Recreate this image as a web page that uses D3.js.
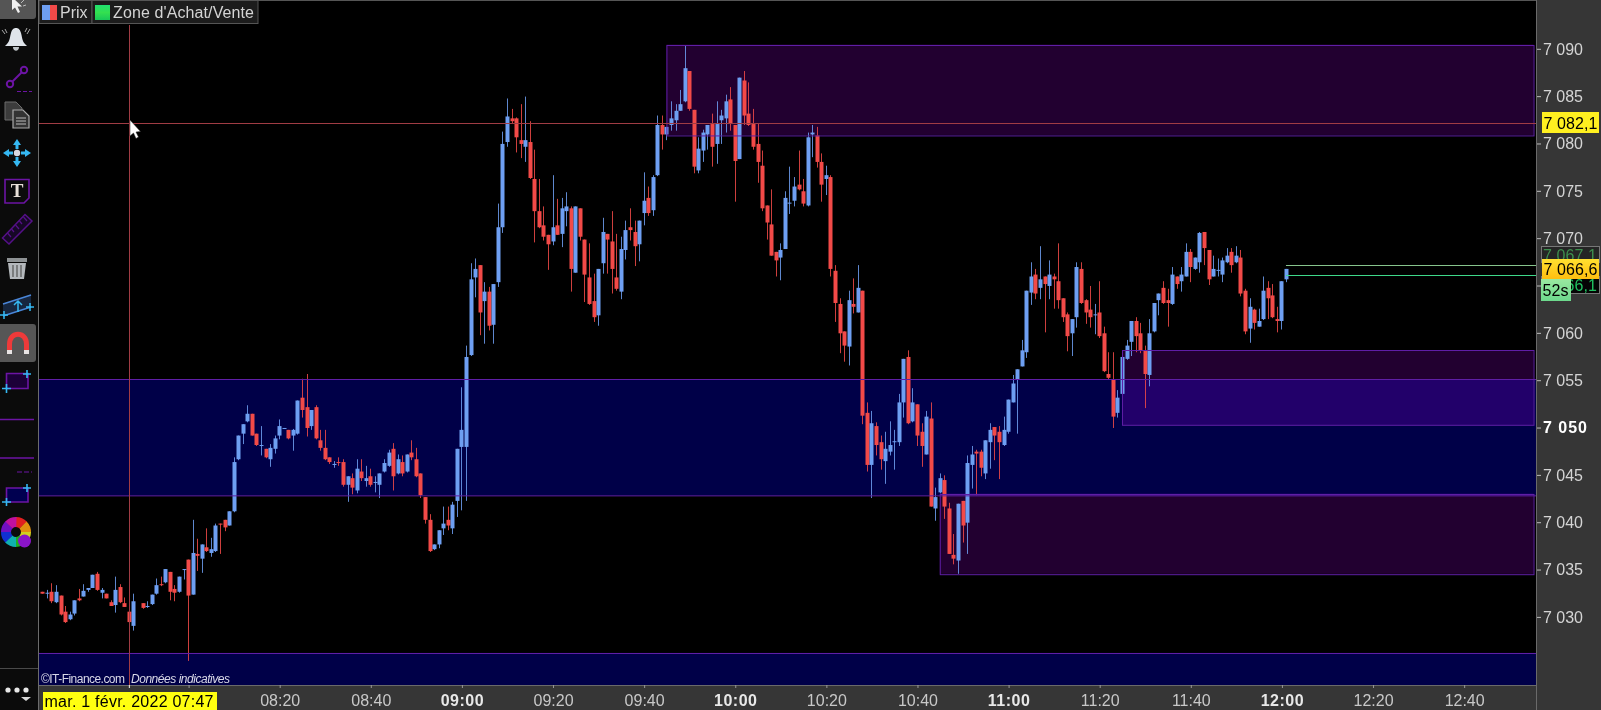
<!DOCTYPE html>
<html><head><meta charset="utf-8">
<script src="https://cdnjs.cloudflare.com/ajax/libs/d3/7.8.5/d3.min.js"></script>
<style>html,body{margin:0;padding:0;background:#000;overflow:hidden}svg{display:block;font-family:"Liberation Sans",Arial,sans-serif}</style>
</head><body><svg id="c" width="1601" height="710"></svg>
<script>
// One candle per minute, starting at the time below. null = no trade in that minute.
const firstMinute = 7 * 60 + 28;
const opens = [
7032.6,7032.4,7032.6,7031.5,7032.2,7030.5,7029.7,7030.3,7031.9,7032.1,
7032.8,7033.0,7034.5,7032.5,7032.4,7031.5,7031.2,7033.1,7031.4,7030.5,
7029.0,null,7031.4,7031.0,7031.3,7032.4,7033.4,7033.6,7034.7,7032.9,
7032.6,7034.9,7036.0,7032.3,7036.6,7036.1,7037.3,7036.7,7036.9,7039.8,
7040.2,7039.6,7041.1,7046.6,7049.3,7050.6,7051.4,7049.3,7048.0,7047.7,
7046.6,7047.7,7049.1,7049.8,7049.7,7049.1,7049.3,7053.1,7052.1,7050.1,
7052.1,7048.6,7047.8,7046.8,7046.0,7046.3,7046.3,7043.9,7044.6,7043.3,
7045.3,7044.3,7044.8,7044.1,7043.9,7045.3,7045.9,7047.7,7045.1,7046.3,
7045.3,7047.3,7046.6,7045.1,7042.6,7040.2,7037.1,7037.6,7039.3,7040.2,
7039.3,7042.2,7047.9,7047.9,7057.6,7065.8,7067.1,7063.3,7064.3,7060.8,
7065.3,7071.1,7080.1,7082.6,7082.6,7080.3,7079.6,7080.1,7076.2,7072.8,
7071.3,7070.3,7069.6,7071.3,7070.4,7072.8,7073.1,7066.3,7073.1,7069.8,
7065.8,7063.3,7061.8,7067.3,7070.4,7069.6,7065.8,7064.3,7068.7,7071.1,
7070.6,7069.3,7072.6,7074.2,7072.9,7076.6,7081.9,7080.9,7081.9,7082.4,
7083.4,7084.4,7087.6,7083.5,7077.1,7079.2,7080.9,7082.0,7079.9,7082.4,
7082.6,7084.6,7081.9,7078.3,7086.6,7083.1,7082.0,7079.9,7077.6,7073.4,
7071.4,7068.5,7067.9,7068.8,7073.6,7073.9,7075.6,7074.9,7073.4,7080.9,
7080.8,7078.0,7076.2,7076.4,7066.5,7063.0,7060.1,7058.5,7063.0,7062.1,
7064.4,7051.5,7046.0,7050.1,7048.4,7046.4,7047.4,7048.4,7048.4,7052.6,
7057.4,7050.6,7052.4,7049.5,7047.1,7050.9,7041.4,7043.1,7044.4,7041.4,
7036.5,7035.9,7042.2,7039.9,7046.0,7047.4,7047.4,7045.1,7048.4,7050.0,
7049.5,7048.1,7049.5,7052.6,7055.0,7056.4,7057.9,7064.2,7066.1,7064.7,
7065.9,7064.9,7065.9,7065.4,7063.6,7061.9,7059.9,7061.6,7066.7,7063.4,
7062.4,7061.8,7062.1,7059.9,7055.6,7055.0,7051.5,7053.5,7057.2,7059.0,
7061.2,7059.9,7058.1,7055.5,7060.1,7063.4,7064.7,7063.4,7063.0,7065.9,
7065.4,7065.9,7068.5,7066.7,7067.4,7070.6,7068.7,7065.9,7066.5,7066.1,
7067.4,7068.5,7067.4,7067.9,7064.4,7060.4,7062.4,7060.6,7061.4,7064.7,
7063.9,7061.4,7061.2,7065.6];
const highs = [
7032.6,7032.8,7033.5,7033.3,7032.2,7031.1,7030.5,7031.7,7032.9,7033.4,
7033.0,7034.4,7034.7,7033.0,7032.4,7031.7,7034.2,7033.4,7032.0,7030.5,
7032.4,null,7031.4,7031.6,7032.3,7034.0,7034.2,7035.0,7034.7,7033.3,
7034.2,7035.0,7036.0,7040.2,7038.2,7037.6,7039.3,7038.3,7039.8,7039.8,
7040.2,7041.1,7046.8,7049.1,7050.3,7052.3,7051.4,7049.3,7050.1,7047.7,
7048.2,7049.1,7050.8,7049.9,7049.7,7049.8,7052.8,7055.1,7055.6,7051.8,
7052.3,7049.7,7049.7,7046.8,7046.4,7046.8,7046.6,7044.8,7045.1,7046.6,
7046.6,7045.9,7045.6,7044.8,7045.1,7046.6,7047.6,7048.3,7047.1,7047.0,
7047.1,7048.6,7047.8,7045.1,7042.6,7040.8,7037.6,7039.1,7041.6,7041.6,
7042.1,7047.7,7054.2,7058.6,7067.3,7067.8,7067.1,7065.3,7064.8,7065.1,
7073.6,7081.2,7084.7,7083.6,7082.7,7084.1,7084.9,7082.3,7079.3,7076.2,
7073.3,7070.3,7076.6,7074.1,7074.2,7074.8,7073.3,7073.3,7073.1,7069.8,
7069.4,7066.2,7066.7,7072.1,7070.4,7072.8,7070.4,7070.1,7071.8,7073.1,
7071.8,7071.8,7076.9,7075.4,7076.6,7082.9,7082.9,7081.7,7084.4,7084.1,
7085.6,7090.3,7087.6,7083.5,7080.6,7081.4,7081.9,7083.1,7084.4,7083.5,
7085.1,7085.9,7081.9,7086.9,7087.6,7086.4,7083.6,7082.0,7079.2,7073.4,
7075.1,7068.5,7069.4,7074.9,7077.5,7076.4,7079.2,7076.2,7081.1,7081.9,
7081.7,7078.9,7077.6,7076.6,7067.1,7063.6,7060.1,7064.4,7065.7,7067.1,
7064.4,7052.6,7051.7,7050.5,7049.1,7049.5,7050.6,7049.7,7053.5,7057.2,
7058.1,7054.1,7052.4,7050.4,7051.7,7052.6,7043.6,7045.1,7044.9,7042.0,
7038.7,7041.9,7042.2,7047.0,7048.0,7047.6,7047.6,7048.6,7050.4,7050.0,
7050.1,7051.1,7052.9,7055.5,7056.1,7059.2,7064.4,7067.4,7066.7,7069.1,
7065.9,7067.6,7066.2,7069.4,7063.6,7062.1,7061.4,7067.4,7067.4,7063.5,
7064.9,7063.0,7065.4,7060.6,7057.9,7057.9,7053.9,7057.9,7059.2,7061.2,
7061.6,7061.0,7058.6,7061.4,7063.1,7064.1,7065.4,7064.6,7066.9,7065.9,
7066.9,7069.4,7068.8,7067.9,7070.6,7070.6,7068.7,7068.1,7067.8,7067.9,
7068.9,7068.9,7069.1,7068.7,7064.6,7063.6,7062.5,7062.5,7065.9,7065.4,
7065.1,7062.7,7065.4,7066.7];
const lows = [
7032.4,7031.9,7031.4,7031.4,7030.1,7029.3,7029.6,7030.1,7031.6,7032.1,
7032.6,7033.0,7032.7,7031.9,7031.9,7031.1,7030.4,7031.4,7031.0,7029.3,
7028.5,null,7030.8,7030.9,7031.2,7032.3,7033.2,7033.5,7031.7,7031.6,
7032.5,7033.9,7025.3,7032.3,7034.8,7034.6,7036.8,7036.3,7036.8,7036.6,
7039.0,7039.6,7041.0,7046.5,7048.2,7050.5,7049.1,7048.0,7047.0,7046.7,
7045.8,7047.2,7048.7,7049.8,7048.7,7047.5,7049.2,7051.0,7049.0,7049.7,
7048.7,7047.5,7046.5,7046.1,7045.7,7045.9,7043.7,7042.1,7042.9,7043.0,
7044.3,7043.7,7043.7,7043.1,7042.5,7045.2,7045.8,7043.3,7045.0,7044.8,
7045.2,7046.5,7044.7,7042.5,7039.8,7036.8,7037.0,7037.2,7038.6,7039.1,
7038.7,7040.5,7041.2,7042.2,7057.5,7063.7,7059.7,7058.8,7060.2,7058.8,
7064.8,7070.5,7079.6,7082.0,7079.0,7078.4,7078.0,7076.2,7069.5,7071.0,
7069.7,7066.6,7069.2,7070.3,7069.0,7071.2,7064.3,7066.3,7069.7,7063.2,
7062.9,7061.1,7060.7,7066.2,7066.2,7064.1,7064.4,7063.5,7067.7,7069.7,
7067.0,7067.5,7071.3,7072.3,7072.3,7076.5,7079.3,7080.3,7081.3,7081.3,
7083.4,7084.3,7083.4,7076.8,7076.8,7078.0,7079.3,7077.5,7077.8,7079.9,
7081.1,7081.3,7073.8,7078.3,7081.9,7081.8,7079.3,7075.8,7072.8,7069.8,
7068.1,7065.9,7065.5,7068.8,7072.5,7073.3,7075.0,7073.3,7073.3,7078.5,
7077.4,7073.8,7074.5,7065.9,7061.1,7057.8,7056.9,7056.5,7062.0,7062.1,
7050.3,7045.3,7042.5,7047.0,7045.5,7044.0,7047.0,7045.5,7048.0,7051.0,
7050.3,7050.5,7048.0,7045.8,7047.1,7041.6,7040.1,7043.0,7040.3,7036.6,
7035.5,7034.5,7037.8,7036.6,7043.5,7042.8,7044.8,7044.5,7045.6,7046.5,
7044.5,7048.0,7049.3,7052.6,7049.3,7056.4,7057.3,7062.9,7063.5,7063.5,
7060.0,7063.5,7062.5,7062.5,7061.1,7058.0,7057.5,7060.5,7063.0,7060.9,
7060.5,7059.8,7059.4,7055.8,7055.0,7049.9,7051.0,7053.4,7057.1,7057.5,
7057.9,7057.8,7052.0,7054.3,7060.0,7061.8,7063.0,7060.6,7062.9,7064.6,
7064.3,7065.9,7065.3,7066.6,7066.3,7067.1,7065.0,7065.9,7065.9,7065.3,
7067.3,7066.3,7067.3,7063.8,7059.8,7058.9,7060.3,7060.6,7061.3,7061.4,
7061.5,7060.0,7060.3,7065.3];
const closes = [
7032.4,7032.5,7031.6,7032.6,7030.2,7029.4,7030.2,7031.7,7031.7,7032.7,
7033.0,7034.4,7032.8,7032.8,7031.9,7031.1,7032.8,7031.5,7031.0,7029.4,
7031.6,null,7030.9,7031.1,7032.3,7033.3,7033.3,7035.0,7032.6,7032.5,
7034.2,7035.0,7032.2,7036.7,7036.4,7037.6,7036.9,7037.1,7039.6,7039.7,
7039.4,7041.1,7046.3,7049.1,7050.3,7051.4,7049.1,7048.1,7048.1,7046.8,
7047.8,7048.8,7050.1,7049.9,7048.8,7049.7,7052.8,7051.8,7049.9,7051.8,
7048.8,7047.8,7046.6,7046.3,7046.1,7046.2,7043.9,7044.8,7043.6,7045.6,
7044.6,7044.6,7043.9,7044.2,7045.1,7046.2,7047.3,7044.8,7046.6,7045.1,
7047.1,7046.8,7044.8,7042.8,7040.2,7036.9,7037.6,7039.1,7039.8,7039.6,
7041.8,7047.7,7049.7,7057.4,7065.6,7066.7,7062.1,7064.3,7060.7,7065.1,
7071.1,7079.9,7082.8,7082.3,7080.6,7079.9,7080.3,7076.3,7072.8,7071.1,
7070.1,7069.3,7071.1,7070.3,7073.1,7073.3,7066.7,7073.3,7070.1,7066.1,
7063.0,7061.6,7066.7,7070.6,7069.8,7066.7,7064.6,7068.8,7070.8,7070.8,
7069.1,7071.8,7073.9,7072.6,7076.4,7081.9,7080.9,7081.7,7082.6,7083.4,
7084.1,7087.9,7083.6,7077.5,7079.4,7081.1,7081.9,7079.6,7082.0,7082.9,
7084.4,7082.0,7078.1,7086.9,7082.9,7081.9,7079.6,7078.0,7073.1,7071.6,
7068.1,7067.6,7068.7,7074.2,7073.7,7075.4,7075.1,7073.6,7080.6,7081.1,
7078.0,7075.6,7076.6,7066.7,7063.1,7059.9,7058.6,7063.4,7062.7,7064.7,
7051.2,7046.0,7050.4,7048.1,7046.6,7047.7,7048.1,7048.5,7052.6,7057.2,
7050.4,7052.6,7049.1,7048.0,7051.1,7041.6,7042.6,7044.6,7041.6,7036.6,
7036.1,7041.9,7039.6,7046.2,7047.1,7047.2,7045.7,7048.6,7049.7,7049.1,
7048.4,7049.7,7052.9,7054.6,7056.1,7058.1,7064.4,7065.9,7064.1,7065.6,
7065.1,7066.1,7065.6,7063.4,7061.6,7059.6,7061.4,7066.9,7063.1,7062.1,
7061.6,7061.9,7059.6,7055.9,7055.2,7051.1,7053.1,7057.4,7058.6,7061.2,
7059.6,7058.1,7055.6,7059.9,7063.1,7064.1,7063.1,7063.1,7066.1,7065.1,
7066.1,7068.5,7066.9,7067.9,7070.5,7068.9,7065.6,7066.7,7066.6,7067.6,
7068.1,7067.1,7068.1,7064.1,7060.1,7062.7,7061.0,7061.2,7064.4,7063.6,
7061.6,7061.2,7065.4,7066.7];

// Supply / demand zones: start minute (null = whole width), top price, bottom price
const zoneStarts = [null, null, 9*60+45, 10*60+45, 11*60+25];
const zoneTops = [7055.05, 7026.15, 7090.4, 7042.97, 7058.1];
const zoneBottoms = [7042.76, 7000, 7080.85, 7034.5, 7050.2];
const zoneKinds = ["buy", "buy", "sell", "sell", "sell"];

const crosshairMinute = 7 * 60 + 47, crosshairPrice = 7082.1;
const bidPrice = 7067.1, lastPrice = 7066.6, askPrice = 7066.1, quoteStart = 12 * 60 + 1;
const countdown = "52s", cursorDate = "mar. 1 févr. 2022 07:47";
const priceTicks = d3.range(7030, 7091, 5);
const hiddenPriceLabels = [7065];
const boldPrice = [7050];
const timeTicks = ["08:00","08:20","08:40","09:00","09:20","09:40","10:00","10:20","10:40","11:00","11:20","11:40","12:00","12:20","12:40"];
const hiddenTimeLabels = ["08:00"];
const legend = ["Prix", "Zone d'Achat/Vente"];
const credit = "©IT-Finance.com", disclaimer = "Données indicatives";

const BLUE = "#6e9ff2", RED = "#f24a48", PANEL = "#363636", TXT = "#d4d4d4", ZLINE = "#5f1ea6";
const plot = {l: 39, r: 1536, t: 1, b: 685};
const toMin = s => { const [h, m] = s.split(":").map(Number); return h * 60 + m; };
const x = d3.scaleLinear().domain([firstMinute, firstMinute + 60]).range([42.3, 42.3 + 60 * 4.5556]);
const y = d3.scaleLinear().domain([7030, 7090]).range([616.4, 48.3]);
const frNum = v => { const s = Math.floor(v).toString(); return s[0] + " " + s.slice(1); };
const fmt1 = v => frNum(v) + "," + Math.round((v % 1) * 10);
const hhmm = m => d3.format("02")(Math.floor(m / 60)) + ":" + d3.format("02")(m % 60);

const svg = d3.select("#c");
const defs = svg.append("defs");
defs.append("clipPath").attr("id", "pc").append("rect").attr("x", plot.l).attr("y", plot.t).attr("width", plot.r - plot.l).attr("height", plot.b - plot.t);
const lg = (id, c) => { const g = defs.append("linearGradient").attr("id", id).attr("x1", 0).attr("x2", 0).attr("y1", 0).attr("y2", 1); c.forEach((k, i) => g.append("stop").attr("offset", i / (c.length - 1)).attr("stop-color", k)); };
lg("gY", ["#ffe030", "#ffbe10"]); lg("gG", ["#20e070", "#34e050", "#18c858"]); lg("g52", ["#9ae8a0", "#6cd88c"]);

svg.append("rect").attr("width", 1601).attr("height", 710).attr("fill", "#000");

// zones
const zones = zoneTops.map((t, i) => ({t, b: zoneBottoms[i], s: zoneStarts[i], k: zoneKinds[i]}));
const gz = svg.append("g").attr("clip-path", "url(#pc)").style("isolation", "isolate");
const zr = d => ({x: d.s === null ? plot.l - 3 : x(d.s), y: y(d.t), w: (d.s === null ? plot.r + 3 : 1533.5) - (d.s === null ? plot.l - 3 : x(d.s)), h: y(d.b) - y(d.t)});
gz.selectAll("rect").data(zones).join("rect").attr("x", d => zr(d).x).attr("y", d => zr(d).y).attr("width", d => zr(d).w).attr("height", d => zr(d).h)
  .attr("fill", d => d.k === "buy" ? "#000048" : "#220030").style("mix-blend-mode", "screen");

// candles
const bars = opens.map((o, i) => o === null ? null : ({m: firstMinute + i, o, h: highs[i], l: lows[i], c: closes[i]})).filter(Boolean);
const gc = svg.append("g").attr("clip-path", "url(#pc)");
const col = d => d.c >= d.o ? BLUE : RED;
gc.selectAll("line").data(bars).join("line").attr("x1", d => Math.round(x(d.m)) + 0.5).attr("x2", d => Math.round(x(d.m)) + 0.5)
  .attr("y1", d => y(d.h)).attr("y2", d => y(d.l)).attr("stroke", col).attr("stroke-width", 1).attr("stroke-opacity", 0.85);
gc.selectAll("rect").data(bars).join("rect").attr("x", d => Math.round(x(d.m)) - 1.5).attr("width", 4)
  .attr("y", d => y(Math.max(d.o, d.c))).attr("height", d => Math.max(1, Math.abs(y(d.o) - y(d.c)))).attr("fill", col);

// zone outlines over the candles
const gs = svg.append("g").attr("clip-path", "url(#pc)");
gs.selectAll("rect").data(zones).join("rect").attr("x", d => zr(d).x + .5).attr("y", d => Math.round(zr(d).y) + .5).attr("width", d => zr(d).w).attr("height", d => zr(d).h)
  .attr("fill", "none").attr("stroke", ZLINE).attr("stroke-width", 1);

// quote lines
const gq = svg.append("g");
[[bidPrice, "#86c48c"], [askPrice, "#3ed88a"]].forEach(([p, c]) => gq.append("line").attr("x1", x(quoteStart)).attr("x2", plot.r).attr("y1", Math.round(y(p)) + .5).attr("y2", Math.round(y(p)) + .5).attr("stroke", c));

// crosshair
const gh = svg.append("g");
gh.append("line").attr("x1", Math.round(x(crosshairMinute)) + .5).attr("x2", Math.round(x(crosshairMinute)) + .5).attr("y1", 25).attr("y2", plot.b).attr("stroke", "#a03c44");
gh.append("line").attr("x1", plot.l).attr("x2", plot.r).attr("y1", Math.round(y(crosshairPrice)) + .5).attr("y2", Math.round(y(crosshairPrice)) + .5).attr("stroke", "#a03c44");
svg.append("path").attr("d", "M130 120 L130 136 L133.5 133 L136 138.5 L138.5 137 L136 132 L140.5 131.5 Z").attr("fill", "#fff").attr("stroke", "#222").attr("stroke-width", .5);

// panels
svg.append("rect").attr("x", plot.r).attr("y", 0).attr("width", 1601 - plot.r).attr("height", 710).attr("fill", PANEL);
svg.append("rect").attr("x", 38).attr("y", plot.b).attr("width", plot.r - 38).attr("height", 710 - plot.b).attr("fill", PANEL);
svg.append("line").attr("x1", plot.r + .5).attr("x2", plot.r + .5).attr("y1", 0).attr("y2", 710).attr("stroke", "#6a6a6a");
svg.append("line").attr("x1", 38).attr("x2", plot.r).attr("y1", .5).attr("y2", .5).attr("stroke", "#555");
svg.append("line").attr("x1", 38).attr("x2", plot.r).attr("y1", plot.b + .5).attr("y2", plot.b + .5).attr("stroke", "#6a6a6a");

// y axis
const ya = d3.axisRight(y).tickValues(priceTicks).tickSize(4).tickPadding(2).tickFormat(v => hiddenPriceLabels.includes(v) ? "" : frNum(v));
const gya = svg.append("g").attr("transform", `translate(${plot.r + 1},0.5)`).call(ya);
gya.select(".domain").remove();
gya.selectAll("line").attr("stroke", "#bbb");
gya.selectAll("text").attr("fill", d => boldPrice.includes(d) ? "#fff" : TXT).attr("font-size", 16).attr("font-weight", d => boldPrice.includes(d) ? "bold" : "normal").attr("font-family", "Liberation Sans").attr("dy", "0.33em").attr("textLength", d => hiddenPriceLabels.includes(d) ? null : (boldPrice.includes(d) ? 44 : 40));

// x axis
const xa = d3.axisBottom(x).tickValues(timeTicks.map(toMin)).tickSize(3).tickPadding(5).tickFormat(m => hiddenTimeLabels.includes(hhmm(m)) ? "" : hhmm(m));
const gxa = svg.append("g").attr("transform", `translate(0.5,${plot.b})`).call(xa);
gxa.select(".domain").remove();
gxa.selectAll("line").attr("stroke", "#999");
const isHour = m => m % 60 === 0;
gxa.selectAll("text").attr("fill", d => isHour(d) ? "#e8e8e8" : "#c8c8c8").attr("font-size", 16).attr("font-family", "Liberation Sans").attr("font-weight", d => isHour(d) ? "bold" : "normal").attr("y", 6).attr("dy", "0.95em").attr("letter-spacing", d => isHour(d) ? .5 : 0);
gxa.append("line").attr("x1", x(crosshairMinute)).attr("x2", x(crosshairMinute)).attr("y1", 0).attr("y2", 3).attr("stroke", "#eee");

// copyright
svg.append("text").attr("x", 41).attr("y", 683).attr("font-size", 12).attr("fill", "#d8d8e8").text(credit).attr("textLength", 84);
svg.append("text").attr("x", 131).attr("y", 683).attr("font-size", 12).attr("font-style", "italic").attr("fill", "#d8d8e8").text(disclaimer).attr("textLength", 99);

// price tags
const tag = (xx, yy, w, h, fill, txt, tc, stroke, len) => {
  svg.append("rect").attr("x", xx).attr("y", yy).attr("width", w).attr("height", h).attr("fill", fill).attr("stroke", stroke || "none");
  if (txt) svg.append("text").attr("x", xx + 1.5).attr("y", yy + h / 2 + 6).attr("font-size", 16).attr("fill", tc).attr("textLength", len || 54).text(txt);
};
tag(1542, 112, 57, 21, "#fff020", fmt1(crosshairPrice), "#000");
tag(1541.5, 246.5, 58, 16, "#252525", fmt1(bidPrice), "#3d8f4e", "#777");
tag(1541.5, 276.5, 58, 17, "#050505", fmt1(askPrice), "#20c060", "#777");
tag(1542, 259, 57, 20, "url(#gY)", fmt1(lastPrice), "#000");
tag(1541, 279, 30, 22, "url(#g52)", countdown, "#000", null, 26);

// cursor date
svg.append("rect").attr("x", 43).attr("y", 692).attr("width", 174).attr("height", 18).attr("fill", "#ffff10");
svg.append("text").attr("x", 44.5).attr("y", 707).attr("font-size", 16).attr("fill", "#000").attr("textLength", 169).text(cursorDate);

// legend
const lbox = (xx, w) => svg.append("rect").attr("x", xx + .5).attr("y", .5).attr("width", w).attr("height", 23).attr("fill", "#1c1c1c").attr("stroke", "#555");
lbox(38.5, 53); lbox(91.5, 166);
svg.append("rect").attr("x", 42).attr("y", 5).attr("width", 8).attr("height", 15).attr("fill", BLUE);
svg.append("rect").attr("x", 50).attr("y", 5).attr("width", 7).attr("height", 15).attr("fill", RED);
svg.append("rect").attr("x", 95).attr("y", 5).attr("width", 15).attr("height", 15).attr("fill", "url(#gG)");
svg.append("text").attr("x", 60).attr("y", 18).attr("font-size", 16).attr("fill", TXT).text(legend[0]);
svg.append("text").attr("x", 113).attr("y", 18).attr("font-size", 16).attr("fill", TXT).attr("textLength", 141).text(legend[1]);

// toolbar
const tb = svg.append("g");
tb.append("rect").attr("width", 38).attr("height", 710).attr("fill", "#0b0b0b");
tb.append("line").attr("x1", 38.5).attr("x2", 38.5).attr("y1", 0).attr("y2", 710).attr("stroke", "#6c6c6c");
tb.append("rect").attr("x", -2).attr("y", -2).attr("width", 38).attr("height", 21).attr("rx", 3).attr("fill", "#555");
tb.append("rect").attr("x", -2).attr("y", 324).attr("width", 38).attr("height", 38).attr("rx", 3).attr("fill", "#565656");
const P = "#6c14a4", C = "#35b8f2";
const path = (d, o) => { const e = tb.append("path").attr("d", d); Object.entries(Object.assign({fill: "none"}, o)).forEach(([k, v]) => e.attr(k, v)); return e; };
// pointer
path("M12 -3 L12 10 L15 7.5 L18 13 L20 12 L17.5 6.5 L22 6.5 Z", {fill: "#f0f0f0"});
path("M21 3 L24 0 M23 6 L26 5", {stroke: "#bbb"});
// bell
path("M7 44 C10 41 10 36 11 33 C12 29 14 28 16 28 C18 28 20 29 21 33 C22 36 22 41 25 44 L27 46 L5 46 Z", {fill: "#dfe4ea"});
path("M13 47 C13 52 19 52 19 47 Z", {fill: "#bfc4c8"});
path("M2 30 L5 34 M5 29 L7 33 M30 29 L27 34 M27 28 L25 32", {stroke: "#aaa", "stroke-width": 1});
// line tool
tb.append("circle").attr("cx", 10).attr("cy", 84).attr("r", 3.2).attr("fill", "none").attr("stroke", P).attr("stroke-width", 2);
tb.append("circle").attr("cx", 24).attr("cy", 70).attr("r", 3.2).attr("fill", "none").attr("stroke", P).attr("stroke-width", 2);
path("M12.5 81.5 L21.5 72.5", {stroke: P, "stroke-width": 2});
path("M17 91.5 H32", {stroke: P, "stroke-width": 1, "stroke-dasharray": "4 2"});
// documents
path("M5 102 H16 L22 108 V120 H5 Z", {fill: "#3c3c3c", stroke: "#6c6c6c"});
path("M13 110 H23 L29 116 V128 H13 Z", {fill: "#333", stroke: "#aaa", "stroke-width": 1.2});
path("M16 118 H26 M16 121 H26 M16 124 H26", {stroke: "#bbb"});
// move
tb.append("circle").attr("cx", 17).attr("cy", 153).attr("r", 3.2).attr("fill", "#d8d8e0");
path("M17 139 L21 145 H18.5 V149 H15.5 V145 H13 Z M17 167 L21 161 H18.5 V157 H15.5 V161 H13 Z M3 153 L9 149 V151.5 H13 V154.5 H9 V157 Z M31 153 L25 149 V151.5 H21 V154.5 H25 V157 Z", {fill: C});
// T
path("M5 179.5 H29 V198 L24 203 H5 Z", {stroke: P, "stroke-width": 1.6});
tb.append("text").attr("x", 17).attr("y", 197).attr("text-anchor", "middle").attr("font-family", "Liberation Serif").attr("font-weight", "bold").attr("font-size", 19).attr("fill", "#e8e0d8").text("T");
// ruler
path("M2.5 238 L25 214.5 L32 221 L9 244 Z", {stroke: "#551088", "stroke-width": 1.5, fill: "#160826"});
path("M7.5 233 L11 237 M11.5 229 L14 232 M15.5 225 L19 229 M19.5 221 L22 224 M23.5 217 L27 221", {stroke: "#551088", "stroke-width": 1.2});
// trash
path("M8 263 H26 L24 279 H10 Z", {fill: "#b4b8bc"});
path("M7 258 H27 V262 H7 Z", {fill: "#8e9294"});
path("M13 265 V277 M17 265 V277 M21 265 V277", {stroke: "#555", "stroke-width": 1.2});
// channel
path("M3 304 L31 295 V307 L3 316 Z", {fill: "#16263f"});
path("M3 304 L31 295 M3 316 L31 307", {stroke: "#4a86d8", "stroke-width": 1.5});
path("M18 301 V312 M14 305 L18 301 L22 305", {stroke: C, "stroke-width": 1.5});
path("M0 315 H8 M4 311 V319 M26 307 H34 M30 303 V311", {stroke: C, "stroke-width": 1.5});
// magnet
path("M9.5 352 V344 C9.5 331 26.5 331 26.5 344 V352", {stroke: "#ee3a3a", "stroke-width": 5});
path("M7 350 H12 V354 H7 Z M24 350 H29 V354 H24 Z", {fill: "#e8e4e4"});
// rect tools
path("M6.5 373.5 H28 V388.5 H6.5 Z", {fill: "#1c0038", stroke: P, "stroke-width": 1.6});
path("M23 374 H31 M27 370 V378 M2 388.5 H11 M6.5 384 V393", {stroke: C, "stroke-width": 1.6});
path("M0 419.5 H34 M0 458 H34", {stroke: P, "stroke-width": 1.6});
path("M17 472 H32", {stroke: P, "stroke-width": 1, "stroke-dasharray": "5 2"});
path("M6.5 488 H28 V502 H6.5 Z", {fill: "#000050", stroke: P, "stroke-width": 1.6});
path("M23 488 H31 M27 484 V492 M2 502 H11 M6.5 498 V506", {stroke: C, "stroke-width": 1.6});
// colour wheel
const wheel = ["#e02020", "#e09010", "#d0d020", "#20b020", "#10b0b0", "#1030d0", "#7010c0", "#c010a0"];
const arc = d3.arc().innerRadius(5).outerRadius(15);
const gw = tb.append("g").attr("transform", "translate(16,532)");
wheel.forEach((c, i) => gw.append("path").attr("d", arc({startAngle: i * Math.PI / 4, endAngle: (i + 1.05) * Math.PI / 4})).attr("fill", c));
tb.append("circle").attr("cx", 24.5).attr("cy", 541).attr("r", 6.5).attr("fill", "#8a14c8");
// more
tb.append("line").attr("x1", 0).attr("x2", 38).attr("y1", 668.5).attr("y2", 668.5).attr("stroke", "#4a4a4a");
[8, 17, 26].forEach(c => tb.append("circle").attr("cx", c).attr("cy", 690).attr("r", 2.6).attr("fill", "#e8e8e8"));
path("M21 697 H31 L26 701 Z", {fill: "#d8d8d8"});
</script></body></html>
